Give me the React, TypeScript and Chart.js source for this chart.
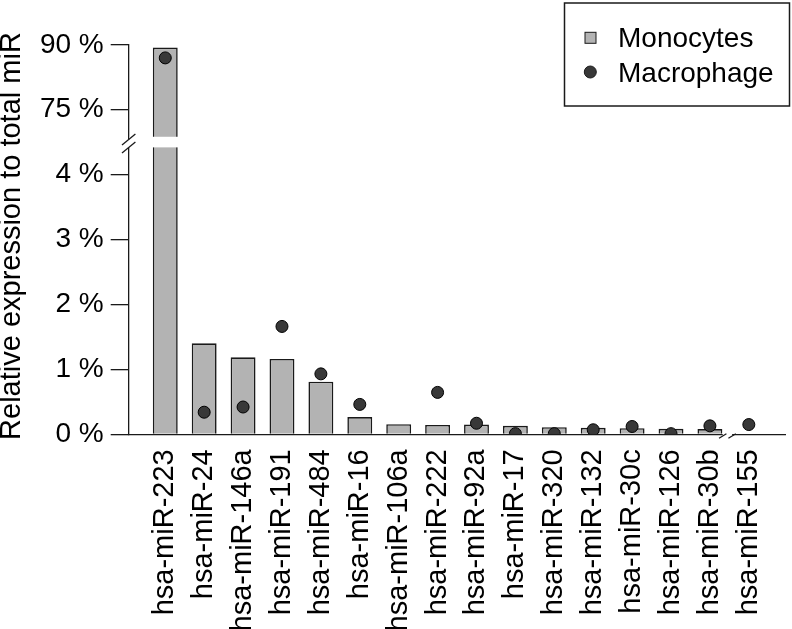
import React, { useEffect, useRef } from 'react';
import { Chart, registerables } from 'chart.js';

Chart.register(...registerables);

const FONT = "'Liberation Sans', Arial, Helvetica, sans-serif";

const categories = [
  'hsa-miR-223', 'hsa-miR-24', 'hsa-miR-146a', 'hsa-miR-191', 'hsa-miR-484', 'hsa-miR-16',
  'hsa-miR-106a', 'hsa-miR-222', 'hsa-miR-92a', 'hsa-miR-17', 'hsa-miR-320', 'hsa-miR-132',
  'hsa-miR-30c', 'hsa-miR-126', 'hsa-miR-30b', 'hsa-miR-155',
];
const seriesNames = ['Monocytes', 'Macrophage'];
const yTitle = 'Relative expression to total miR';
const monocytes = [89.4, 1.40, 1.185, 1.16, 0.81, 0.265, 0.155, 0.145, 0.15, 0.13, 0.11, 0.10, 0.095, 0.085, 0.08, 0.01];
const macrophage: (number | null)[] = [87.0, 0.34, 0.42, 1.66, 0.93, 0.46, null, 0.645, 0.17, 0.01, 0.01, 0.07, 0.12, 0.01, 0.13, 0.15];
const lowerTicks = [0, 1, 2, 3, 4];
const upperTicks = [75, 90];
const lowerRange = [0, 4.49];
const upperRange = [67.3, 90];
const xRange = [-0.94, 15.93];
const xBreakAt = 14.45;

const BAR_FILL = '#b3b3b3';
const LINE = '#1a1a1a';
const DOT = '#383838';

export default function App() {
  const ref = useRef<HTMLCanvasElement>(null);

  useEffect(() => {
    document.body.style.margin = '0';
    const canvas = ref.current!;

    const clipPlugin = {
      id: 'segClip',
      beforeDatasetDraw(chart: any, args: any) {
        const meta = chart.getDatasetMeta(args.index);
        const ys = chart.scales[meta.yAxisID];
        const ca = chart.chartArea;
        const ctx = chart.ctx;
        ctx.save();
        ctx.beginPath();
        ctx.rect(ca.left, ys.top, ca.right - ca.left, ys.bottom - ys.top);
        ctx.clip();
      },
      afterDatasetDraw(chart: any) {
        chart.ctx.restore();
      },
    };

    const breaksPlugin = {
      id: 'breaks',
      afterDraw(chart: any) {
        const ctx = chart.ctx;
        const ca = chart.chartArea;
        const B = chart.scales.yLow.top;
        const ax = ca.left;
        ctx.save();
        ctx.fillStyle = '#fff';
        ctx.fillRect(ax + 1, B - 5.8, ca.right - ax - 1, 10.6);
        ctx.fillRect(ax - 2, B - 3, 4, 8);
        ctx.strokeStyle = LINE;
        ctx.lineWidth = 1.3;
        for (const cy of [B - 3, B + 5]) {
          ctx.beginPath();
          ctx.moveTo(ax - 6.7, cy + 5.5);
          ctx.lineTo(ax + 6.7, cy - 5.5);
          ctx.stroke();
        }
        const bx = chart.scales.x.getPixelForValue(xBreakAt);
        const by = ca.bottom;
        ctx.fillStyle = '#fff';
        ctx.fillRect(bx - 4.7, by - 2, 9.4, 4);
        for (const cx of [bx - 4.7, bx + 4.7]) {
          ctx.beginPath();
          ctx.moveTo(cx - 3.7, by + 4);
          ctx.lineTo(cx + 3.7, by - 0.6);
          ctx.stroke();
        }
        ctx.restore();
      },
    };

    const textPlugin = {
      id: 'boxLegendAndTitle',
      afterDraw(chart: any) {
        const ctx = chart.ctx;
        const ca = chart.chartArea;
        ctx.save();
        // y-axis title, centred on the plot region
        ctx.fillStyle = '#000';
        ctx.font = `29px ${FONT}`;
        ctx.textAlign = 'center';
        ctx.textBaseline = 'middle';
        ctx.translate(12, (ca.top + ca.bottom) / 2 - 3.6);
        ctx.rotate(-Math.PI / 2);
        ctx.fillText(yTitle, 0, 0);
        ctx.restore();

        ctx.save();
        ctx.lineWidth = 1.5;
        ctx.strokeStyle = LINE;
        ctx.strokeRect(564.5, 3, 225, 103);
        ctx.fillStyle = BAR_FILL;
        ctx.fillRect(585, 32.3, 11, 11);
        ctx.lineWidth = 1;
        ctx.strokeRect(585, 32.3, 11, 11);
        ctx.beginPath();
        ctx.arc(590.3, 72, 6, 0, Math.PI * 2);
        ctx.fillStyle = DOT;
        ctx.fill();
        ctx.stroke();
        ctx.fillStyle = '#000';
        ctx.font = `28px ${FONT}`;
        ctx.textBaseline = 'alphabetic';
        ctx.textAlign = 'left';
        ctx.fillText(seriesNames[0], 618, 47.3);
        ctx.fillText(seriesNames[1], 618, 81.7);
        ctx.restore();
      },
    };

    const pts = (arr: (number | null)[]) => arr.map((y, i) => ({ x: i, y }));

    const yCommon = (ticksArr: number[]) => ({
      type: 'linear' as const,
      position: 'left' as const,
      stack: 'ystack',
      grid: { display: true, drawOnChartArea: false, drawTicks: true, tickLength: 18, color: LINE, lineWidth: 1.3 },
      border: { display: true, color: LINE, width: 1.3 },
      ticks: {
        padding: 7,
        color: '#000',
        font: { size: 28, family: FONT },
        callback: (v: any) => `${v} %`,
      },
      afterBuildTicks: (s: any) => {
        s.ticks = ticksArr.map((v) => ({ value: v }));
      },
      afterFit: (s: any) => {
        s.width = 128.7;
        s.paddingTop = 0;
        s.paddingBottom = 0;
      },
    });

    const pointDs = (axis: string) => ({
      type: 'line' as const,
      label: seriesNames[1],
      data: pts(macrophage),
      yAxisID: axis,
      showLine: false,
      pointRadius: 6,
      pointHoverRadius: 6,
      pointBackgroundColor: DOT,
      pointBorderColor: '#000',
      pointBorderWidth: 1,
      order: 0,
    });
    const barDs = (axis: string) => ({
      type: 'bar' as const,
      label: seriesNames[0],
      data: pts(monocytes),
      yAxisID: axis,
      backgroundColor: BAR_FILL,
      borderColor: LINE,
      borderWidth: 1.6,
      grouped: false,
      barPercentage: 0.8,
      categoryPercentage: 0.8,
      order: 1,
    });

    const chart = new Chart(canvas, {
      type: 'bar',
      data: {
        datasets: [pointDs('yHigh'), pointDs('yLow'), barDs('yHigh'), barDs('yLow')] as any,
      },
      options: {
        animation: false,
        responsive: false,
        events: [],
        layout: { padding: { top: 45, right: 2, bottom: 0, left: 0 } },
        plugins: {
          legend: { display: false },
          tooltip: { enabled: false },
          title: { display: false },
        },
        scales: {
          x: {
            type: 'linear',
            min: xRange[0],
            max: xRange[1],
            offset: false,
            grid: { display: false, drawTicks: false, offset: false },
            border: { display: true, color: LINE, width: 1.3 },
            ticks: {
              autoSkip: false,
              minRotation: 90,
              maxRotation: 90,
              padding: 15,
              color: '#000',
              font: { size: 29, family: FONT },
              callback: (v: any) => categories[v as number] ?? '',
            },
            afterBuildTicks: (s: any) => {
              s.ticks = categories.map((_, i) => ({ value: i }));
            },
            afterFit: (s: any) => {
              s.height = 194.7;
              s.paddingLeft = 0;
              s.paddingRight = 0;
            },
          },
          yHigh: {
            ...yCommon(upperTicks),
            min: upperRange[0],
            max: upperRange[1],
            weight: 2,
            stackWeight: (upperRange[1] - upperRange[0]) * 4.3,
          },
          yLow: {
            ...yCommon(lowerTicks),
            min: lowerRange[0],
            max: lowerRange[1],
            weight: 1,
            stackWeight: (lowerRange[1] - lowerRange[0]) * 65,
          },
        } as any,
      },
      plugins: [clipPlugin, breaksPlugin, textPlugin],
    } as any);

    return () => chart.destroy();
  }, []);

  return (
    <div style={{ width: 792, height: 629 }}>
      <canvas ref={ref} width={792} height={629} style={{ display: 'block', width: 792, height: 629 }} />
    </div>
  );
}
